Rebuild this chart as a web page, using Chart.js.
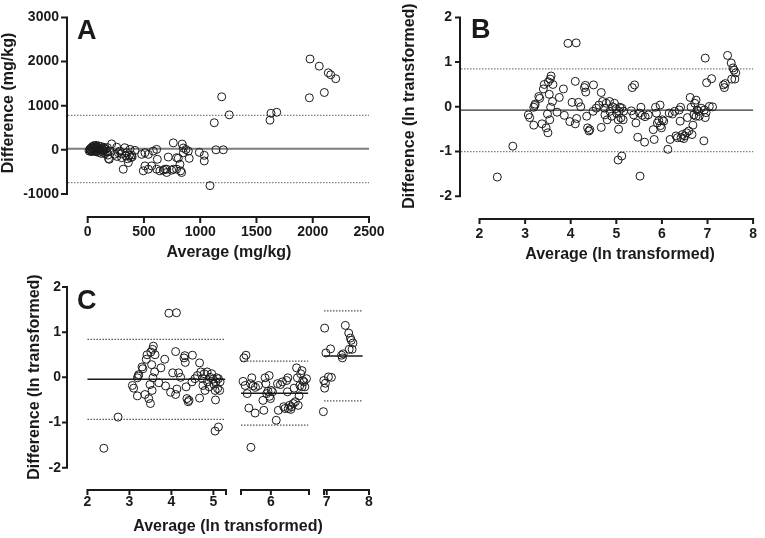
<!DOCTYPE html>
<html>
<head>
<meta charset="utf-8">
<script src="https://cdn.jsdelivr.net/npm/chart.js@4.4.1/dist/chart.umd.min.js"></script>
<style>
  html, body { margin: 0; padding: 0; background: #fff; }
  #wrap { position: relative; width: 765px; height: 538px; }
  #wrap canvas { position: absolute; left: 0; top: 0; }
</style>
</head>
<body>
<div id="wrap">
  <canvas id="panelA" width="765" height="538"></canvas>
  <canvas id="panelB" width="765" height="538"></canvas>
  <canvas id="panelC1" width="765" height="538"></canvas>
  <canvas id="panelC2" width="765" height="538"></canvas>
  <canvas id="panelC3" width="765" height="538"></canvas>
</div>
<script>
// panel A - raw concentrations (mg/kg)
const aAverage = [12, 18, 22, 25, 30, 35, 38, 42, 45, 50, 55, 58, 62, 65, 70, 72, 78, 80, 85, 88,
  92, 95, 100, 105, 110, 115, 120, 125, 130, 135, 140, 145, 150, 155, 160, 170, 175, 180, 185, 195,
  213, 192, 258, 272, 302, 331, 347, 376, 382, 361, 316, 391, 420, 240, 260, 285, 300, 340, 355, 370,
  395, 480, 509, 539, 583, 613, 619, 509, 494, 539, 569, 613, 642, 672, 702, 702, 687, 716, 746, 761,
  761, 790, 790, 805, 820, 826, 835, 840, 850, 850, 873, 894, 902, 992, 1036, 1036, 1087, 1140, 1205, 1125,
  1191, 1258, 1620, 1629, 1680, 1976, 2058, 2138, 2160, 2204, 2103, 1970];
const aDifference = [-20, 10, -35, 30, -10, 50, -40, 20, 80, -15, 40, 95, -30, 60, 10, 100, -45, 70, 25, -20,
  55, 90, -60, 30, -10, 75, -80, 40, 5, -50, 60, -20, 30, -90, 10, -40, 50, -120, -200, -30,
  134, -215, 60, -67, -179, 45, -67, 9, -179, -291, -440, -119, -13, -100, -150, -30, -90, -140, -200, -120,
  -160, -103, -67, -103, -29, 9, -215, -365, -477, -439, -365, -439, -477, -461, -514, -439, -440, -164, -462, -439,
  157, -440, -179, -192, -328, -477, -515, 130, 40, -67, 7, -29, -194, -58, -125, -253, -812, 0, 0, 613,
  1201, 792, 671, 828, 850, 2058, 1895, 1745, 1700, 1611, 1298, 1179];
const aBias = 22;
const aLimits = [-745, 782];
const aTicksX = [0, 500, 1000, 1500, 2000, 2500];
const aTicksY = [-1000, 0, 1000, 2000, 3000];

// panels B and C - ln transformed
const lnAverage = [2.39, 2.73, 3.07, 3.10, 3.19, 3.19, 3.21, 3.22, 3.30, 3.32, 3.37, 3.40, 3.42, 3.46, 3.49, 3.50,
  3.51, 3.55, 3.53, 3.54, 3.56, 3.57, 3.60, 3.61, 3.70, 3.75, 3.84, 3.86, 3.94, 3.98, 4.03, 4.10,
  4.12, 4.10, 4.13, 4.17, 4.22, 4.30, 4.33, 4.32, 4.35, 4.37, 4.40, 4.42, 4.50, 4.49, 4.56, 4.62,
  4.67, 4.67, 4.70, 4.74, 4.75, 4.78, 4.80, 4.85, 4.86, 4.90, 4.92, 4.96, 4.99, 5.01, 5.04, 5.05,
  5.06, 5.08, 5.10, 5.12, 5.15, 5.16, 5.04, 5.12, 5.35, 5.40, 5.33, 5.38, 5.43, 5.47, 5.51, 5.54,
  5.52, 5.57, 5.62, 5.63, 5.70, 5.81, 5.83, 5.86, 5.88, 5.90, 5.93, 5.96, 5.97, 5.99, 6.01, 6.04,
  6.13, 6.16, 6.18, 6.23, 6.28, 6.31, 6.34, 6.38, 6.40, 6.41, 6.42, 6.45, 6.48, 6.50, 6.54, 6.56,
  6.59, 6.62, 6.64, 6.66, 6.68, 6.70, 6.72, 6.75, 6.75, 6.77, 6.80, 6.82, 6.86, 6.95, 6.92, 6.93,
  6.97, 6.95, 6.98, 7.04, 7.09, 7.11, 7.35, 7.37, 7.39, 7.44, 7.52, 7.53, 7.56, 7.58, 7.60, 7.62];
const lnDifference = [-1.57, -0.88, -0.18, -0.24, -0.41, -0.01, 0.03, 0.06, 0.23, 0.19, -0.38, 0.40, 0.50, -0.47, -0.16, -0.58,
  0.56, 0.62, 0.28, -0.29, -0.01, 0.69, 0.12, 0.50, -0.12, 0.21, 0.40, -0.19, 1.42, -0.33, 0.10, 0.57,
  1.43, -0.38, -0.26, 0.10, 0.00, 0.43, 0.33, 0.48, -0.21, -0.47, -0.54, -0.51, 0.49, -0.10, -0.03, 0.04,
  0.32, -0.46, 0.12, -0.03, -0.18, 0.08, -0.29, 0.12, -0.10, -0.21, 0.00, 0.08, -0.04, -0.15, -0.29, -0.50,
  -0.10, -0.01, -0.25, -0.03, -0.29, -0.10, -1.19, -1.10, 0.43, 0.49, -0.09, -0.18, -0.36, -0.68, -0.14, -0.01,
  -1.55, -0.19, -0.79, -0.22, -0.18, -0.51, -0.73, -0.01, -0.14, -0.36, -0.31, 0.04, -0.42, -0.47, -0.29, -0.32,
  -0.95, -0.14, -0.73, -0.16, -0.10, -0.65, -0.69, -0.07, -0.32, -0.01, -0.69, -0.62, -0.71, -0.65, -0.58, -0.24,
  -0.54, 0.21, -0.01, -0.62, -0.41, -0.18, 0.08, 0.15, -0.21, -0.07, -0.10, -0.21, -0.03, -0.24, -0.76, -0.07,
  -0.13, 1.09, 0.54, 0.01, 0.63, 0.00, 0.49, 0.43, 0.52, 1.15, 0.98, 0.62, 0.87, 0.82, 0.62, 0.76];
const bBias = -0.075;
const bLimits = [-1.0, 0.85];
const lnTicksY = [-2, -1, 0, 1, 2];
const bTicksX = [2, 3, 4, 5, 6, 7, 8];

// panel C - the same points, split in three ranges
const cSplit = [5.25, 6.88];
const cRanges = [[2, 5.3], [5.28, 6.92], [6.935, 8]];
const cTicksX = [[2, 3, 4, 5], [6], [7, 8]];
const cBias = [-0.04, -0.35, 0.47];
const cLower = [-0.93, -1.06, -0.52];
const cUpper = [0.84, 0.36, 1.47];
const cLineEnd = [5.28, 6.9, 7.85];

const FONT = '"Liberation Sans", Arial, Helvetica, sans-serif';
const INK = '#1a1a1a';

function points(xs, ys) {
  return {
    data: xs.map((x, i) => ({ x, y: ys[i] })),
    pointRadius: 4, pointBorderWidth: 1, borderColor: INK,
    backgroundColor: 'rgba(0,0,0,0)', pointHoverRadius: 4, clip: false
  };
}
function hline(x0, x1, v, dotted, color, width) {
  return {
    data: [{ x: x0, y: v }, { x: x1, y: v }], showLine: true, pointRadius: 0,
    borderColor: color, borderWidth: width, borderDash: dotted ? [1.5, 1.5] : [], clip: false
  };
}

// GraphPad-like detached axes + titles, drawn after the chart
function prism(o) {
  const tl = o.tickLen || 5;
  return {
    id: 'prism',
    afterDraw(chart) {
      const { ctx, chartArea, scales: { x, y } } = chart;
      ctx.save();
      ctx.setLineDash([]);
      ctx.strokeStyle = INK;
      ctx.lineWidth = 2;
      ctx.beginPath();
      if (o.yAxis) {
        const lx = chartArea.left - 1;
        ctx.moveTo(lx, y.getPixelForValue(o.yAxis[1]) - 1);
        ctx.lineTo(lx, y.getPixelForValue(o.yAxis[0]) + 1);
        o.y.ticks.forEach(v => {
          const p = y.getPixelForValue(v);
          ctx.moveTo(lx - tl, p); ctx.lineTo(lx, p);
        });
      }
      const by = chartArea.bottom + 1;
      ctx.moveTo(x.getPixelForValue(o.xAxis[0]) - 1, by);
      ctx.lineTo(x.getPixelForValue(o.xAxis[1]) + 1, by);
      o.xMarks.forEach(v => {
        const p = x.getPixelForValue(v);
        ctx.moveTo(p, by); ctx.lineTo(p, by + tl);
      });
      ctx.stroke();

      ctx.fillStyle = INK;
      if (o.letter) {
        ctx.font = 'bold 27px ' + FONT;
        ctx.textAlign = 'left';
        ctx.textBaseline = 'alphabetic';
        ctx.fillText(o.letter[0], o.letter[1], o.letter[2]);
      }
      ctx.font = 'bold 16px ' + FONT;
      ctx.textAlign = 'center';
      ctx.textBaseline = 'middle';
      if (o.xTitle) ctx.fillText(o.xTitle[0], o.xTitle[1], o.xTitle[2]);
      if (o.yTitle) {
        ctx.translate(o.yTitle[1], o.yTitle[2]);
        ctx.rotate(-Math.PI / 2);
        ctx.fillText(o.yTitle[0], 0, 0);
      }
      ctx.restore();
    }
  };
}

function makePanel(id, o) {
  const W = 765, H = 538, XH = 40;
  const yW = o.yAxis ? o.yWidth : 0;
  const tickFont = { family: FONT, size: 14, weight: 'bold' };
  return new Chart(document.getElementById(id), {
    type: 'scatter',
    data: { datasets: o.datasets },
    options: {
      responsive: false,
      animation: false,
      events: [],
      layout: {
        autoPadding: false,
        padding: { left: o.area[0] - yW, top: o.area[1], right: W - o.area[2], bottom: H - o.area[3] - XH }
      },
      plugins: { legend: { display: false }, tooltip: { enabled: false } },
      scales: {
        x: {
          type: 'linear', min: o.x.min, max: o.x.max,
          grid: { display: false, drawTicks: false }, border: { display: false },
          afterFit: s => { s.height = XH; },
          afterBuildTicks: s => { s.ticks = o.x.ticks.map(v => ({ value: v })); },
          ticks: { padding: o.x.pad, autoSkip: false, maxRotation: 0, color: INK, font: tickFont,
                   callback: v => String(v) }
        },
        y: {
          type: 'linear', display: !!o.yAxis, min: o.y.min, max: o.y.max,
          grid: { display: false, drawTicks: false }, border: { display: false },
          afterFit: s => { s.width = yW; },
          afterBuildTicks: s => { s.ticks = o.y.ticks.map(v => ({ value: v })); },
          ticks: { padding: o.y.pad, autoSkip: false, color: INK, font: tickFont,
                   callback: v => String(v) }
        }
      }
    },
    plugins: [prism(o)]
  });
}

// A
const aXMin = -175;
makePanel('panelA', {
  area: [68, 14, 369, 216], yWidth: 68, tickLen: 6,
  x: { min: aXMin, max: 2500, ticks: aTicksX, pad: 8 },
  y: { min: -1500, max: 3000, ticks: aTicksY, pad: 9 },
  yAxis: [-1000, 3000], xAxis: [0, 2500], xMarks: aTicksX,
  letter: ['A', 77, 39],
  xTitle: ['Average (mg/kg)', 229, 253],
  yTitle: ['Difference (mg/kg)', 9, 103],
  datasets: [
    points(aAverage, aDifference),
    hline(aXMin, 2500, aBias, false, '#7d7d7d', 2),
    hline(aXMin, 2500, aLimits[0], true, '#7d7d7d', 1.2),
    hline(aXMin, 2500, aLimits[1], true, '#7d7d7d', 1.2)
  ]
});

// B
const bXMin = 1.594;
makePanel('panelB', {
  area: [461, 15, 761, 218], yWidth: 40, tickLen: 5,
  x: { min: bXMin, max: 8, ticks: bTicksX, pad: 8 },
  y: { min: -2.486, max: 2, ticks: lnTicksY, pad: 9 },
  yAxis: [-2, 2], xAxis: [2, 8], xMarks: bTicksX,
  letter: ['B', 471, 38],
  xTitle: ['Average (ln transformed)', 620, 255],
  yTitle: ['Difference (ln transformed)', 410, 106],
  datasets: [
    points(lnAverage, lnDifference),
    hline(bXMin, 8, bBias, false, '#333', 1.3),
    hline(bXMin, 8, bLimits[0], true, '#7d7d7d', 1.2),
    hline(bXMin, 8, bLimits[1], true, '#7d7d7d', 1.2)
  ]
});

// C
function segOf(x) { return x < cSplit[0] ? 0 : (x < cSplit[1] ? 1 : 2); }
function segData(k) {
  const xs = [], ys = [];
  lnAverage.forEach((x, i) => { if (segOf(x) === k) { xs.push(x); ys.push(lnDifference[i]); } });
  const x0 = cRanges[k][0];
  return [
    points(xs, ys),
    hline(x0, cLineEnd[k], cBias[k], false, INK, 1.5),
    hline(x0, cLineEnd[k], cLower[k], true, '#555', 1.2),
    hline(x0, cLineEnd[k], cUpper[k], true, '#555', 1.2)
  ];
}
const cY = { min: -2.472, max: 2, ticks: lnTicksY, pad: 7 };
makePanel('panelC1', {
  area: [68, 287, 226, 489], yWidth: 68, tickLen: 5,
  x: { min: 1.537, max: cRanges[0][1], ticks: cTicksX[0], pad: 5 },
  y: cY,
  yAxis: [-2, 2], xAxis: cRanges[0], xMarks: cTicksX[0].concat([cRanges[0][1]]),
  letter: ['C', 77, 309],
  xTitle: ['Average (ln transformed)', 228, 527],
  yTitle: ['Difference (ln transformed)', 35, 377],
  datasets: segData(0)
});
makePanel('panelC2', {
  area: [241, 287, 309, 489], tickLen: 5,
  x: { min: cRanges[1][0], max: cRanges[1][1], ticks: cTicksX[1], pad: 5 },
  y: cY,
  xAxis: cRanges[1], xMarks: cRanges[1].concat(cTicksX[1]),
  datasets: segData(1)
});
makePanel('panelC3', {
  area: [324, 287, 369, 489], tickLen: 5,
  x: { min: cRanges[2][0], max: cRanges[2][1], ticks: cTicksX[2], pad: 5 },
  y: cY,
  xAxis: cRanges[2], xMarks: [cRanges[2][0]].concat(cTicksX[2]),
  datasets: segData(2)
});
</script>
</body>
</html>
